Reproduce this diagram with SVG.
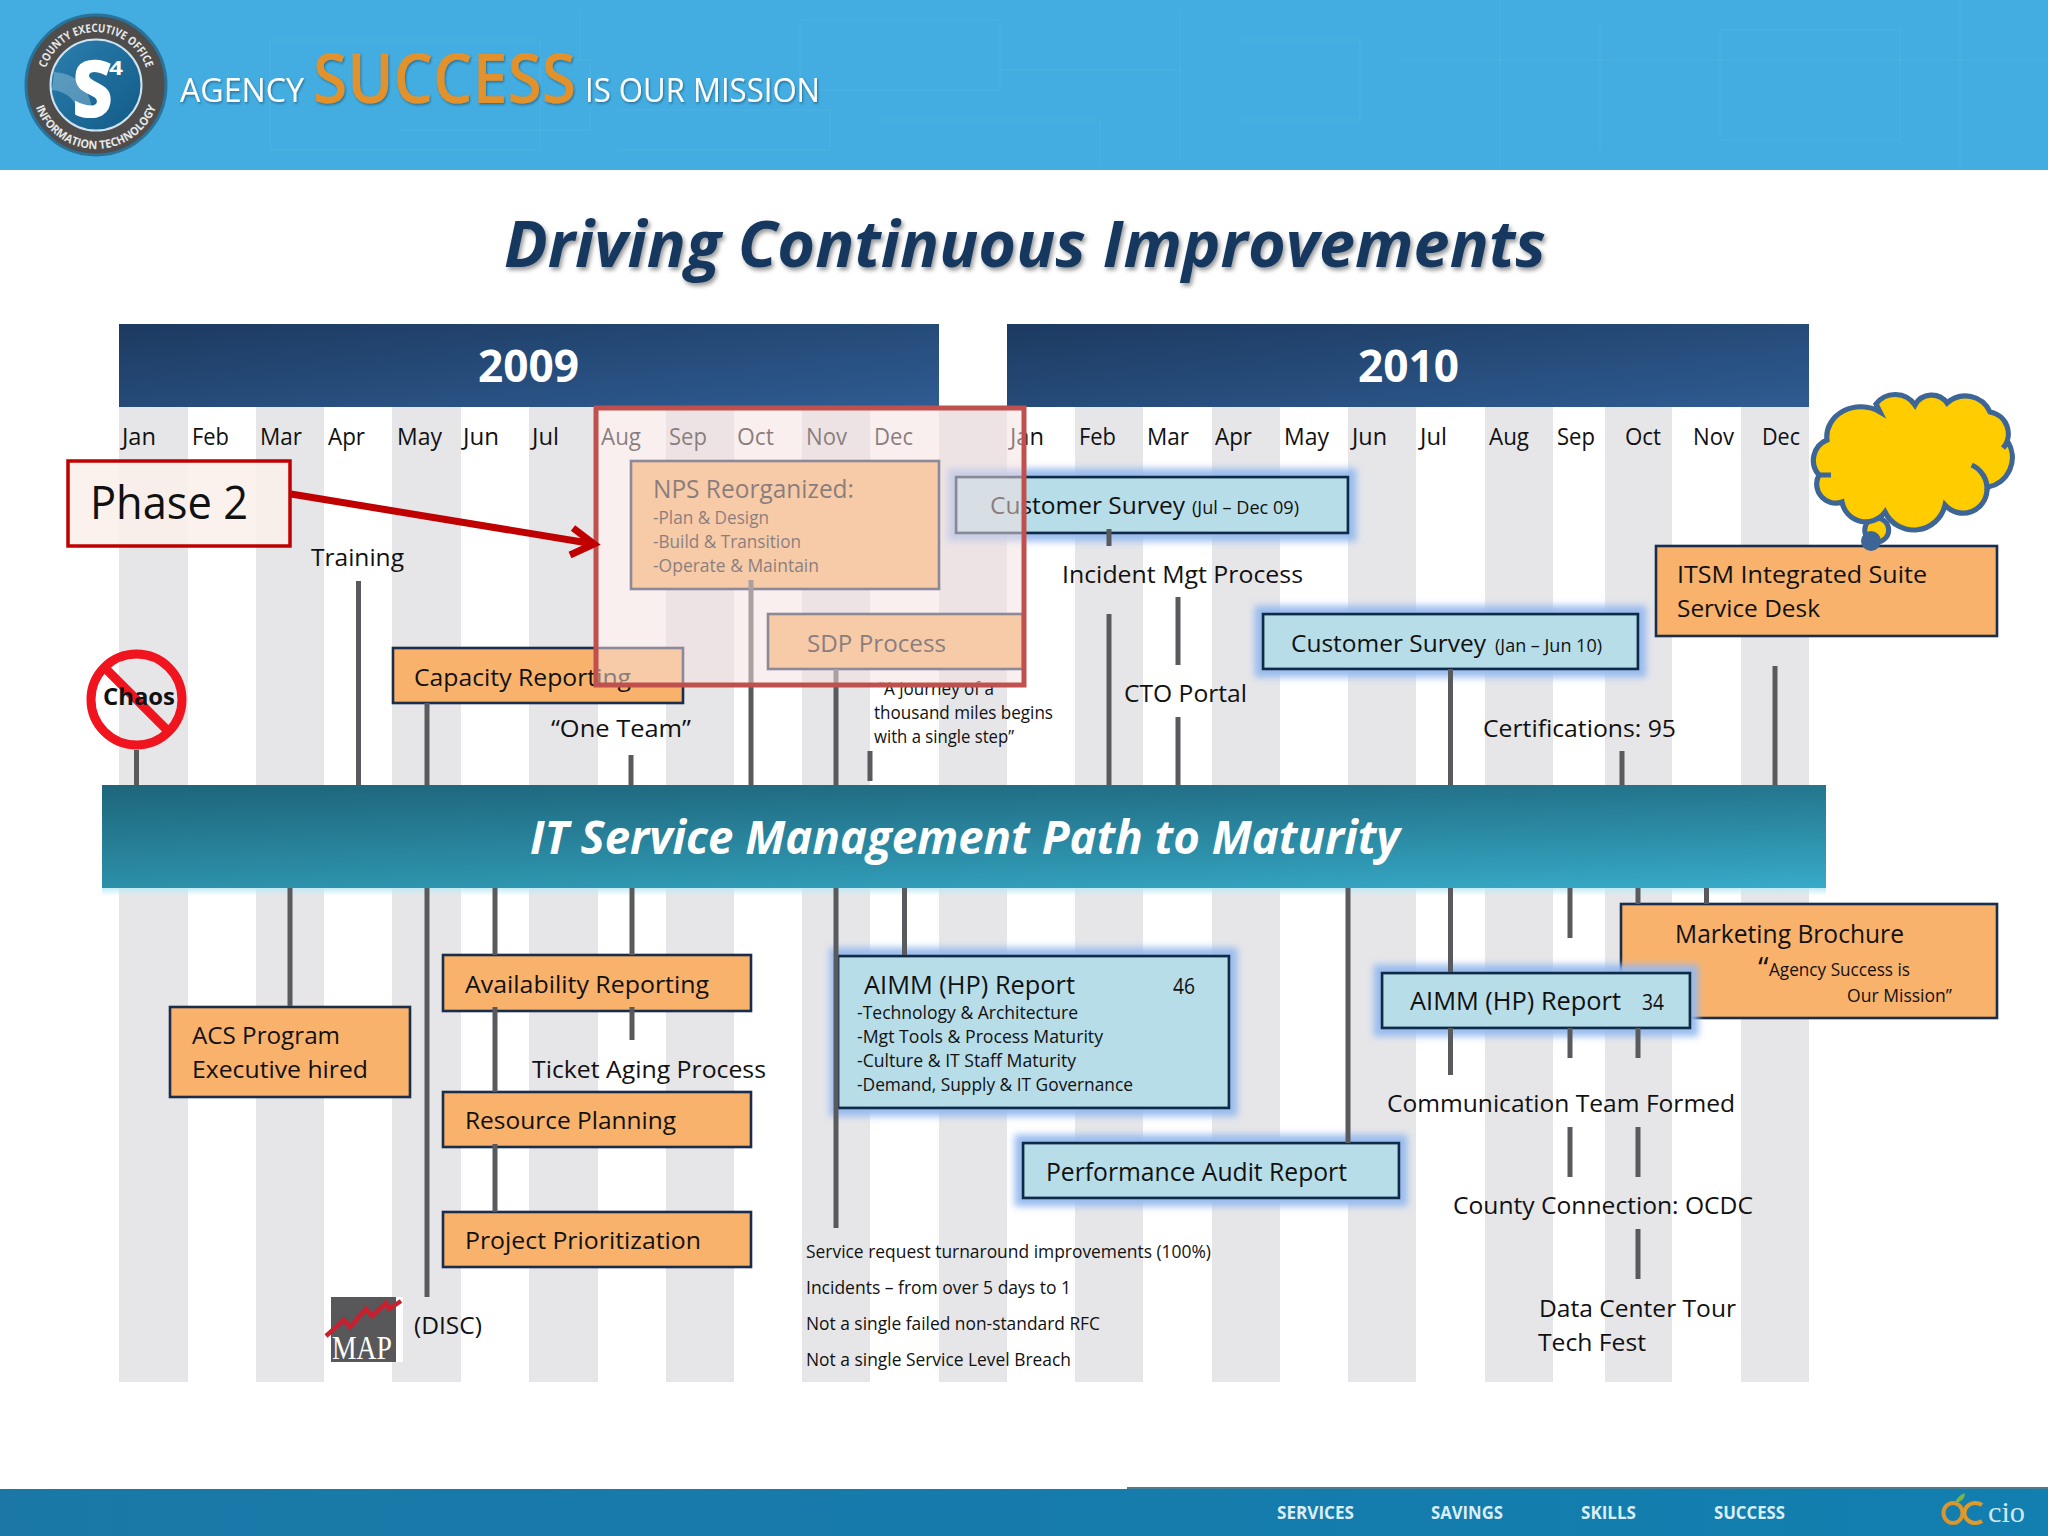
<svg xmlns="http://www.w3.org/2000/svg" width="2048" height="1536" viewBox="0 0 2048 1536">
<style>
text{font-family:"Open Sans","Liberation Sans",sans-serif;fill:#111;font-size:24.5px;font-weight:500}
.s{font-size:19px}
.m{font-size:18px}
.mon{font-size:24.5px}
.wb{fill:#fff;font-weight:700}
.ft{fill:#d9eef8;font-weight:700;font-size:17px}
.stripe{fill:#e6e6e9}
.or{fill:#f9b26b;stroke:#1a2d4a;stroke-width:2.6}
.bl{fill:#b7dde8;stroke:#0f2c4a;stroke-width:2.8}
.line{stroke:#595a5e;stroke-width:5;fill:none}
.ring{fill:#e8e8e8;font-size:11.5px;font-weight:700}
.tex{stroke:#7cc8ea;stroke-width:1;fill:none;opacity:.22}
.cl{fill:none;stroke:#3d6697;stroke-width:5.2;stroke-linecap:butt}
</style>
<defs>
<linearGradient id="yr" x1="0" y1="0" x2="1" y2="1"><stop offset="0" stop-color="#1c3a60"/><stop offset="1" stop-color="#2f5c92"/></linearGradient>
<linearGradient id="band" x1="0" y1="0" x2="1" y2="0"><stop offset="0" stop-color="#2c90a9"/><stop offset="1" stop-color="#37abc9"/></linearGradient>
<linearGradient id="bandV" x1="0" y1="0" x2="0" y2="1"><stop offset="0" stop-color="#0a2a3a" stop-opacity=".42"/><stop offset="1" stop-color="#0a2a3a" stop-opacity="0"/></linearGradient>
<linearGradient id="fade" x1="0" y1="0" x2="0" y2="1"><stop offset="0" stop-color="#bdeaf4"/><stop offset="1" stop-color="#bdeaf4" stop-opacity="0"/></linearGradient>
<linearGradient id="foot" x1="0" y1="0" x2="1" y2="0"><stop offset="0" stop-color="#1b78a6"/><stop offset="1" stop-color="#117fb0"/></linearGradient>
<linearGradient id="disc" x1="0" y1="0" x2="1" y2="1"><stop offset="0" stop-color="#2b7fae"/><stop offset="1" stop-color="#125a87"/></linearGradient>
<filter id="glow" x="-15%" y="-60%" width="130%" height="220%">
<feMorphology in="SourceAlpha" operator="dilate" radius="7" result="d"/>
<feGaussianBlur in="d" stdDeviation="3.6" result="b"/>
<feFlood flood-color="#94b9ee" flood-opacity=".95"/>
<feComposite in2="b" operator="in" result="g"/>
<feMerge><feMergeNode in="g"/><feMergeNode in="SourceGraphic"/></feMerge>
</filter>
<filter id="tsh" x="-5%" y="-20%" width="110%" height="150%"><feDropShadow dx="2" dy="3" stdDeviation="2" flood-color="#000" flood-opacity=".4"/></filter>
<filter id="hsh" x="-5%" y="-20%" width="110%" height="150%"><feDropShadow dx="1" dy="1.5" stdDeviation="1" flood-color="#123" flood-opacity=".45"/></filter>
<path id="ringTop" d="M43 85A53 53 0 0 1 149 85"/>
<path id="ringBot" d="M32 85A64 64 0 0 0 160 85"/>
</defs>

<rect width="2048" height="1536" fill="#fff"/>

<g id="header">
<rect width="2048" height="170" fill="#43ade1"/>
<path class="tex" d="M270 40H540V150H270ZM400 60H590V130H400M800 20H1000V90H800ZM1000 70H1180M1180 10V160M1240 40H1360V120H1240M1400 60H2048M1500 0V170M1600 20V150M1720 30H1900V140H1720ZM1960 0V170M620 110H830V150H620M580 10V60M880 120H1100V165"/>
<circle cx="96" cy="85" r="70" fill="#4f4d4c" stroke="#2a7299" stroke-width="3"/>
<circle cx="96" cy="85" r="45.5" fill="url(#disc)" stroke="#cfe3ee" stroke-width="2"/>
<path d="M54 72Q86 74 92 108L80 116Q74 92 52 90Z" fill="#a9d3e6" opacity=".4"/>
<text class="ring"><textPath href="#ringTop" startOffset="50%" text-anchor="middle" textLength="132" lengthAdjust="spacingAndGlyphs">COUNTY EXECUTIVE OFFICE</textPath></text>
<text class="ring"><textPath href="#ringBot" startOffset="50%" text-anchor="middle" textLength="156" lengthAdjust="spacingAndGlyphs">INFORMATION TECHNOLOGY</textPath></text>
<text x="72" y="117" style="fill:#fff;font-size:80px;font-weight:800" textLength="41" lengthAdjust="spacingAndGlyphs">S</text>
<text x="109" y="75" style="fill:#fff;font-size:19px;font-weight:700" textLength="14" lengthAdjust="spacingAndGlyphs">4</text>
<text x="180" y="102" filter="url(#hsh)" style="fill:#fff;font-size:32px;font-weight:500" textLength="124" lengthAdjust="spacingAndGlyphs">AGENCY</text>
<text x="313" y="103" filter="url(#hsh)" style="fill:#e3912b;font-size:68px;font-weight:600" textLength="263" lengthAdjust="spacingAndGlyphs">SUCCESS</text>
<text x="585" y="102" filter="url(#hsh)" style="fill:#fff;font-size:32px;font-weight:500" textLength="235" lengthAdjust="spacingAndGlyphs">IS OUR MISSION</text>
</g>

<text id="title" x="504" y="267" filter="url(#tsh)" style="fill:#17375e;font-size:65px;font-weight:700;font-style:italic" textLength="1042" lengthAdjust="spacingAndGlyphs">Driving Continuous Improvements</text>

<g id="stripes">
<rect class="stripe" x="119" y="407" width="69" height="975"/>
<rect class="stripe" x="256" y="407" width="68" height="975"/>
<rect class="stripe" x="392" y="407" width="69" height="975"/>
<rect class="stripe" x="529" y="407" width="69" height="975"/>
<rect class="stripe" x="666" y="407" width="68" height="975"/>
<rect class="stripe" x="802" y="407" width="68" height="975"/>
<rect class="stripe" x="939" y="407" width="68" height="975"/>
<rect class="stripe" x="1075" y="407" width="68" height="975"/>
<rect class="stripe" x="1212" y="407" width="68" height="975"/>
<rect class="stripe" x="1348" y="407" width="68" height="975"/>
<rect class="stripe" x="1485" y="407" width="68" height="975"/>
<rect class="stripe" x="1605" y="407" width="67" height="975"/>
<rect class="stripe" x="1741" y="407" width="68" height="975"/>
</g>

<g id="year-2009"><rect x="119" y="324" width="820" height="83" fill="url(#yr)"/><text class="wb" x="478" y="382" style="font-size:45px" textLength="101" lengthAdjust="spacingAndGlyphs">2009</text></g>
<g id="year-2010"><rect x="1007" y="324" width="802" height="83" fill="url(#yr)"/><text class="wb" x="1358" y="382" style="font-size:45px" textLength="101" lengthAdjust="spacingAndGlyphs">2010</text></g>

<g id="months">
<text class="mon" x="122" y="445" textLength="34" lengthAdjust="spacingAndGlyphs">Jan</text>
<text class="mon" x="192" y="445" textLength="37" lengthAdjust="spacingAndGlyphs">Feb</text>
<text class="mon" x="260" y="445" textLength="42" lengthAdjust="spacingAndGlyphs">Mar</text>
<text class="mon" x="328" y="445" textLength="37" lengthAdjust="spacingAndGlyphs">Apr</text>
<text class="mon" x="397" y="445" textLength="45" lengthAdjust="spacingAndGlyphs">May</text>
<text class="mon" x="463" y="445" textLength="36" lengthAdjust="spacingAndGlyphs">Jun</text>
<text class="mon" x="532" y="445" textLength="27" lengthAdjust="spacingAndGlyphs">Jul</text>
<text class="mon" x="601" y="445" textLength="40" lengthAdjust="spacingAndGlyphs">Aug</text>
<text class="mon" x="669" y="445" textLength="38" lengthAdjust="spacingAndGlyphs">Sep</text>
<text class="mon" x="737" y="445" textLength="37" lengthAdjust="spacingAndGlyphs">Oct</text>
<text class="mon" x="806" y="445" textLength="41" lengthAdjust="spacingAndGlyphs">Nov</text>
<text class="mon" x="874" y="445" textLength="39" lengthAdjust="spacingAndGlyphs">Dec</text>
<text class="mon" x="1010" y="445" textLength="34" lengthAdjust="spacingAndGlyphs">Jan</text>
<text class="mon" x="1079" y="445" textLength="37" lengthAdjust="spacingAndGlyphs">Feb</text>
<text class="mon" x="1147" y="445" textLength="42" lengthAdjust="spacingAndGlyphs">Mar</text>
<text class="mon" x="1215" y="445" textLength="37" lengthAdjust="spacingAndGlyphs">Apr</text>
<text class="mon" x="1284" y="445" textLength="45" lengthAdjust="spacingAndGlyphs">May</text>
<text class="mon" x="1352" y="445" textLength="35" lengthAdjust="spacingAndGlyphs">Jun</text>
<text class="mon" x="1420" y="445" textLength="27" lengthAdjust="spacingAndGlyphs">Jul</text>
<text class="mon" x="1489" y="445" textLength="40" lengthAdjust="spacingAndGlyphs">Aug</text>
<text class="mon" x="1557" y="445" textLength="38" lengthAdjust="spacingAndGlyphs">Sep</text>
<text class="mon" x="1625" y="445" textLength="36" lengthAdjust="spacingAndGlyphs">Oct</text>
<text class="mon" x="1693" y="445" textLength="41" lengthAdjust="spacingAndGlyphs">Nov</text>
<text class="mon" x="1762" y="445" textLength="38" lengthAdjust="spacingAndGlyphs">Dec</text>
</g>

<g id="band">
<rect x="102" y="887" width="1724" height="9" fill="url(#fade)"/>
<rect x="102" y="785" width="1724" height="103" fill="url(#band)"/>
<rect x="102" y="785" width="1724" height="103" fill="url(#bandV)"/>
<text x="530" y="854" style="fill:#fff;font-size:46px;font-weight:700;font-style:italic" textLength="870" lengthAdjust="spacingAndGlyphs">IT Service Management Path to Maturity</text>
</g>

<g id="node-nps"><rect class="or" x="631" y="461" width="308" height="128"/>
<text x="653" y="498" style="font-size:26px" textLength="201" lengthAdjust="spacingAndGlyphs">NPS Reorganized:</text>
<text class="s" x="653" y="524" textLength="116" lengthAdjust="spacingAndGlyphs">-Plan &amp; Design</text>
<text class="s" x="653" y="548" textLength="148" lengthAdjust="spacingAndGlyphs">-Build &amp; Transition</text>
<text class="s" x="653" y="572" textLength="166" lengthAdjust="spacingAndGlyphs">-Operate &amp; Maintain</text></g>
<g id="node-sdp"><rect class="or" x="768" y="614" width="255" height="55"/><text x="807" y="652" textLength="139" lengthAdjust="spacingAndGlyphs">SDP Process</text></g>
<g id="node-capacity"><rect class="or" x="393" y="648" width="290" height="55"/><text x="414" y="686" textLength="217" lengthAdjust="spacingAndGlyphs">Capacity Reporting</text></g>
<g id="node-survey1"><rect class="bl" filter="url(#glow)" x="956" y="477" width="392" height="56"/><text x="990" y="514" textLength="195" lengthAdjust="spacingAndGlyphs">Customer Survey</text><text class="m" x="1192" y="514" textLength="107" lengthAdjust="spacingAndGlyphs">(Jul – Dec 09)</text></g>
<g id="node-survey2"><rect class="bl" filter="url(#glow)" x="1263" y="614" width="375" height="55"/><text x="1291" y="652" textLength="195" lengthAdjust="spacingAndGlyphs">Customer Survey</text><text class="m" x="1495" y="652" textLength="107" lengthAdjust="spacingAndGlyphs">(Jan – Jun 10)</text></g>
<g id="node-itsm"><rect class="or" x="1656" y="546" width="341" height="90"/><text x="1677" y="583" textLength="250" lengthAdjust="spacingAndGlyphs">ITSM Integrated Suite</text><text x="1677" y="617" textLength="143" lengthAdjust="spacingAndGlyphs">Service Desk</text></g>
<g id="node-acs"><rect class="or" x="170" y="1007" width="240" height="90"/><text x="192" y="1044" textLength="148" lengthAdjust="spacingAndGlyphs">ACS Program</text><text x="192" y="1078" textLength="176" lengthAdjust="spacingAndGlyphs">Executive hired</text></g>
<g id="node-availability"><rect class="or" x="443" y="955" width="308" height="56"/><text x="465" y="993" textLength="244" lengthAdjust="spacingAndGlyphs">Availability Reporting</text></g>
<g id="node-resource"><rect class="or" x="443" y="1092" width="308" height="55"/><text x="465" y="1129" textLength="211" lengthAdjust="spacingAndGlyphs">Resource Planning</text></g>
<g id="node-project"><rect class="or" x="443" y="1212" width="308" height="55"/><text x="465" y="1249" textLength="236" lengthAdjust="spacingAndGlyphs">Project Prioritization</text></g>
<g id="node-aimm1"><rect class="bl" filter="url(#glow)" x="838" y="956" width="391" height="152"/>
<text x="864" y="994" style="font-size:26px" textLength="211" lengthAdjust="spacingAndGlyphs">AIMM (HP) Report</text>
<text x="1173" y="994" style="font-size:22px" textLength="22" lengthAdjust="spacingAndGlyphs">46</text>
<text class="s" x="857" y="1019" textLength="221" lengthAdjust="spacingAndGlyphs">-Technology &amp; Architecture</text>
<text class="s" x="857" y="1043" textLength="246" lengthAdjust="spacingAndGlyphs">-Mgt Tools &amp; Process Maturity</text>
<text class="s" x="857" y="1067" textLength="219" lengthAdjust="spacingAndGlyphs">-Culture &amp; IT Staff Maturity</text>
<text class="s" x="857" y="1091" textLength="276" lengthAdjust="spacingAndGlyphs">-Demand, Supply &amp; IT Governance</text></g>
<g id="node-audit"><rect class="bl" filter="url(#glow)" x="1023" y="1143" width="376" height="55"/><text x="1046" y="1181" style="font-size:25.5px" textLength="301" lengthAdjust="spacingAndGlyphs">Performance Audit Report</text></g>
<g id="node-marketing"><rect class="or" x="1621" y="904" width="376" height="114"/>
<text x="1675" y="943" style="font-size:25.5px" textLength="229" lengthAdjust="spacingAndGlyphs">Marketing Brochure</text>
<text x="1758" y="978" style="font-size:30px">“</text>
<text class="s" x="1769" y="976" textLength="141" lengthAdjust="spacingAndGlyphs">Agency Success is</text>
<text class="s" x="1847" y="1002" textLength="105" lengthAdjust="spacingAndGlyphs">Our Mission”</text></g>
<g id="node-aimm2"><rect class="bl" filter="url(#glow)" x="1382" y="973" width="308" height="55"/><text x="1410" y="1010" style="font-size:25.5px" textLength="211" lengthAdjust="spacingAndGlyphs">AIMM (HP) Report</text><text x="1642" y="1010" style="font-size:21px" textLength="22" lengthAdjust="spacingAndGlyphs">34</text></g>

<g id="connectors">
<path class="line" d="M136.5 750V785M358.5 581V785M427 703V785M631 755V785M751 580V785M836 669V785M870 751V781M1109 529V546M1109 614V785M1178 597V665M1178 717V785M1450.5 669V785M1622 751V785M1775 666V785"/>
<path class="line" d="M290 888V1006M427 888V1297M495 888V955M495 1007V1092M495 1144V1212M632 888V955M632 1007V1040M836 888V1228M904.5 888V955M1348 888V1143M1450.5 888V972M1450.5 1028V1075M1570 888V938M1570 1028V1058M1570 1127V1177M1638 888V904M1638 1028V1058M1638 1127V1177M1638 1229V1279M1706.5 888V904"/>
</g>

<g id="labels">
<text x="311" y="566" textLength="93" lengthAdjust="spacingAndGlyphs">Training</text>
<text x="551" y="737" textLength="140" lengthAdjust="spacingAndGlyphs">“One Team”</text>
<text class="s" x="878" y="695" textLength="116" lengthAdjust="spacingAndGlyphs">“A journey of a</text>
<text class="s" x="874" y="719" textLength="179" lengthAdjust="spacingAndGlyphs">thousand miles begins</text>
<text class="s" x="874" y="743" textLength="140" lengthAdjust="spacingAndGlyphs">with a single step”</text>
<text x="1062" y="583" textLength="241" lengthAdjust="spacingAndGlyphs">Incident Mgt Process</text>
<text x="1124" y="702" textLength="123" lengthAdjust="spacingAndGlyphs">CTO Portal</text>
<text x="1483" y="737" textLength="193" lengthAdjust="spacingAndGlyphs">Certifications: 95</text>
<text x="532" y="1078" textLength="234" lengthAdjust="spacingAndGlyphs">Ticket Aging Process</text>
<text x="414" y="1334" textLength="68" lengthAdjust="spacingAndGlyphs">(DISC)</text>
<text class="s" x="806" y="1258" textLength="405" lengthAdjust="spacingAndGlyphs">Service request turnaround improvements (100%)</text>
<text class="s" x="806" y="1294" textLength="265" lengthAdjust="spacingAndGlyphs">Incidents – from over 5 days to 1</text>
<text class="s" x="806" y="1330" textLength="294" lengthAdjust="spacingAndGlyphs">Not a single failed non-standard RFC</text>
<text class="s" x="806" y="1366" textLength="265" lengthAdjust="spacingAndGlyphs">Not a single Service Level Breach</text>
<text x="1387" y="1112" textLength="348" lengthAdjust="spacingAndGlyphs">Communication Team Formed</text>
<text x="1453" y="1214" textLength="300" lengthAdjust="spacingAndGlyphs">County Connection: OCDC</text>
<text x="1539" y="1317" textLength="197" lengthAdjust="spacingAndGlyphs">Data Center Tour</text>
<text x="1538" y="1351" textLength="108" lengthAdjust="spacingAndGlyphs">Tech Fest</text>
</g>

<g id="node-chaos">
<circle cx="136.5" cy="699.5" r="45.5" fill="none" stroke="#f0141e" stroke-width="9"/>
<path d="M104 667L169 732" stroke="#f0141e" stroke-width="9"/>
<text x="103" y="705" style="font-size:24px;font-weight:700" textLength="72" lengthAdjust="spacingAndGlyphs">Chaos</text>
</g>

<g id="map-logo">
<rect x="331" y="1297" width="72" height="65" fill="#fff"/>
<rect x="331" y="1297" width="65" height="65" fill="#58585a"/>
<path d="M326 1336L344 1320L350 1327L366 1309L372 1316L386 1303L389 1309L401 1301" fill="none" stroke="#c8202f" stroke-width="4.5"/>
<text x="332" y="1359" style="fill:#fff;font-family:'Liberation Serif',serif;font-size:34px;font-weight:400" textLength="60" lengthAdjust="spacingAndGlyphs">MAP</text>
</g>

<g id="node-cloud">
<circle cx="1876.7" cy="530" r="12" fill="#ffcc00" stroke="#3d6697" stroke-width="5"/>
<circle cx="1871" cy="541" r="10" fill="#3d6697"/>
<path class="cl" style="fill:#ffcc00" d="M1827 440A34 30 0 0 1 1880 412L1876 404A24 24 0 0 1 1915 405A19 19 0 0 1 1947 403A27 27 0 0 1 1990 412A22 22 0 0 1 2003 448L2008 442A30 30 0 0 1 1988 487L1987 490A24 24 0 0 1 1945 505A32 32 0 0 1 1885 512A24 24 0 0 1 1842 502A19 19 0 0 1 1819 475A22 22 0 0 1 1827 440Z"/>
<path class="cl" d="M1971.7 465A26 26 0 0 1 1987 490M1819 475H1831"/>
</g>

<rect id="phase-highlight" x="596" y="408" width="428" height="277" fill="#f5e0e0" fill-opacity=".52" stroke="#c0504d" stroke-width="5"/>

<g id="connector-phase">
<path d="M291 494L594 544M573 528L594 544L570 555" fill="none" stroke="#c00000" stroke-width="7"/>
</g>
<g id="node-phase2"><rect x="68" y="461" width="222" height="85" fill="#faf0ea" fill-opacity=".88" stroke="#c00000" stroke-width="3.5"/><text x="90" y="519" style="font-size:45px" textLength="158" lengthAdjust="spacingAndGlyphs">Phase 2</text></g>

<g id="footer">
<rect y="1489" width="2048" height="47" fill="url(#foot)"/>
<rect x="1127" y="1487" width="921" height="2" fill="#4c7e90"/>
<text class="ft" x="1277" y="1519" textLength="77" lengthAdjust="spacingAndGlyphs">SERVICES</text>
<text class="ft" x="1431" y="1519" textLength="72" lengthAdjust="spacingAndGlyphs">SAVINGS</text>
<text class="ft" x="1581" y="1519" textLength="55" lengthAdjust="spacingAndGlyphs">SKILLS</text>
<text class="ft" x="1714" y="1519" textLength="71" lengthAdjust="spacingAndGlyphs">SUCCESS</text>
<ellipse cx="1953" cy="1513" rx="9.5" ry="10" fill="none" stroke="#d9952e" stroke-width="4"/>
<path d="M1982 1505A11 10 0 1 0 1982 1521" fill="none" stroke="#e09a2b" stroke-width="4"/>
<path d="M1955 1503Q1957 1496 1965 1493Q1965 1501 1955 1503Z" fill="#7ab648"/>
<text x="1988" y="1522" style="fill:#d2e8f2;font-size:29px;font-weight:400;font-family:'Liberation Serif',serif" textLength="37" lengthAdjust="spacingAndGlyphs">cio</text>
</g>
</svg>
